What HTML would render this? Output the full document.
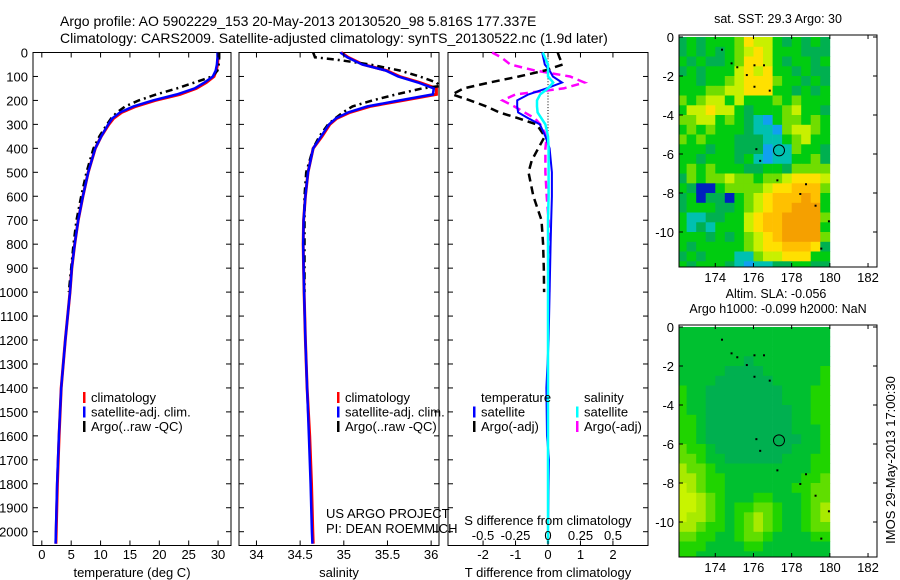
<!DOCTYPE html>
<html><head><meta charset="utf-8"><style>
html,body{margin:0;padding:0;background:#fff;}
svg{display:block;font-family:"Liberation Sans",sans-serif;}
text{fill:#000;}
</style></head><body>
<svg id="fig" width="900" height="580" viewBox="0 0 900 580">
<g id="root"></g>
</svg>
<script>
// ---------- DATA ----------
const climDepths=[0,20,50,75,100,125,150,175,200,225,250,275,300,350,400,500,600,700,800,900,1000,1200,1400,1600,1800,2000,2050];
const tempClim=[30.0,30.0,29.9,29.7,29.3,28.0,26.3,23.5,19.3,16.0,13.6,12.2,11.4,10.1,9.1,7.9,7.0,6.2,5.6,5.1,4.8,4.0,3.3,2.95,2.65,2.45,2.4];
const tempSat=[29.9,29.9,29.8,29.6,29.1,27.7,26.0,23.0,18.9,15.6,13.3,12.0,11.3,10.1,9.1,7.9,7.0,6.2,5.6,5.1,4.8,4.0,3.3,2.9,2.6,2.4,2.35];
const argoDepths=[0,20,50,75,100,125,150,175,200,225,250,275,300,350,400,500,600,700,800,900,1000];
const tempArgo=[30.2,30.2,30.1,29.9,29.0,26.0,23.0,19.5,16.5,14.2,12.8,11.8,11.1,9.8,8.8,7.6,6.7,5.9,5.4,5.0,4.6];
const salClim=[34.97,35.05,35.22,35.49,35.64,35.87,36.06,36.06,35.68,35.30,35.07,34.92,34.84,34.75,34.65,34.59,34.56,34.54,34.535,34.54,34.545,34.56,34.58,34.61,34.63,34.645,34.65];
const salSat=[34.96,35.04,35.21,35.48,35.62,35.85,36.03,36.02,35.64,35.27,35.05,34.91,34.83,34.74,34.65,34.59,34.56,34.54,34.535,34.54,34.545,34.56,34.58,34.60,34.62,34.635,34.64];
const salArgoDepths=[0,20,30,50,75,100,125,140,150,175,200,225,250,275,300,350,400,500,600,700,800,900,1000];
const salArgo=[34.65,34.67,34.92,35.30,35.64,35.87,36.06,36.10,35.90,35.60,35.33,35.10,34.99,34.90,34.82,34.72,34.65,34.57,34.55,34.55,34.55,34.55,34.55];
const diffDepths=[0,20,50,75,100,125,150,175,200,225,250,275,300,350,400,450,500,600,700,800,900,1000];
const tDiffArgo=[0.3,0.35,0.45,-0.1,-0.9,-1.8,-2.6,-2.95,-2.4,-1.9,-1.5,-0.9,-0.35,-0.1,-0.3,-0.5,-0.6,-0.45,-0.2,-0.15,-0.13,-0.12];
const sDiffArgo=[-0.43,-0.36,-0.29,-0.1,0.17,0.28,0.12,-0.25,-0.35,-0.26,-0.18,-0.1,-0.06,-0.01,-0.02,-0.02,-0.02,-0.01,0.005,0.01,0.01,0.01];
const satDiffDepths=[0,50,75,100,125,150,175,200,225,250,275,300,350,400,500,600,700,800,1000,1200,1400,1600,1700,1800,2000,2050];
const tDiffSat=[-0.18,-0.1,0.05,0.15,0.43,-0.05,-0.6,-0.95,-0.95,-0.92,-0.6,-0.25,-0.08,0.05,0.12,0.12,0.1,0.08,0.05,0.02,-0.05,-0.03,0.03,0.02,0.0,0.0];
const sDiffSat=[-0.04,0.0,0.0,0.0,0.04,0.0,-0.06,-0.085,-0.085,-0.08,-0.05,-0.02,0.0,0.005,0.005,0.005,0.0,0.0,0.0,0.0,0.0,0.0,0.0,0.0,0.0,0.0];
const depthTicks=[0,100,200,300,400,500,600,700,800,900,1000,1100,1200,1300,1400,1500,1600,1700,1800,1900,2000];
const tempTicks=[0,5,10,15,20,25,30];
const salTicks=[34,34.5,35,35.5,36];
const salTickLabels=["34","34.5","35","35.5","36"];
const tDiffTicks=[-2,-1,0,1,2];
const sDiffTicks=[-0.5,-0.25,0,0.25,0.5];
const sDiffTickLabels=["-0.5","-0.25","0","0.25","0.5"];
const lonTicks=[174,176,178,180,182];
const latTicks=[0,-2,-4,-6,-8,-10];
const sstRows=[
"3434445766434343","3434345676444333","4343345776434434","3434446767443433",
"4434456777544343","4445566777443434","5456646444545444","4667664344456443",
"5566454321455454","4545444322156654","5454443332245644","4443443331225443",
"4434443421224453","4545444334435555","3545565545567776","4300455556778885",
"3403304567888984","3444334567889994","4223344678899995","4232444678899994",
"4443434567899995","4344444567788873","3434442256677744","4344432122334433"];
const slaRows=[
"1111111111111111","1111111111111111","1111111111111111","1111111011111111",
"1111100001111112","1111000000111112","2110000000011122","2110000000011122",
"2110000000001122","2210000000001122","2210000000001112","2210000000000112",
"3221000000001112","3321100000011122","4332111111111122","4432211111111223",
"5432211111112233","5543211122111233","5543212233211234","5443212343211234",
"4432212343211233","3322112332111122","2221111221111111","2211111111111111"];
const sstColors=["#0020c0","#10a0f0","#00c0b0","#00b050","#00cc10","#70dd00","#c8f000","#ffe000","#ffc000","#f5a000"];
const slaColors=["#00b050","#00c030","#20d400","#60de00","#a8ea00","#c8f400"];
const argoLon=177.337, argoLat=-5.816;
const islands=[[174.3,-0.6],[174.8,-1.3],[175.1,-1.5],[175.6,-1.9],[176.0,-1.4],[176.5,-1.4],[176.0,-2.5],[176.8,-2.7],[176.1,-5.7],[176.3,-6.3],[177.2,-7.3],[178.7,-7.5],[178.4,-8.0],[179.2,-8.6],[179.9,-9.4],[179.5,-10.8]];

// ---------- HELPERS ----------
const NS="http://www.w3.org/2000/svg";
const root=document.getElementById('root');
function mk(tag,attrs,parent){const e=document.createElementNS(NS,tag);for(const k in attrs)e.setAttribute(k,attrs[k]);(parent||root).appendChild(e);return e;}
function txt(x,y,s,size,anchor,parent){const t=mk('text',{x:x,y:y,'font-size':size,'text-anchor':anchor||'start'},parent);t.textContent=s;return t;}

const TOP=52.5,BOT=545.5;
const yD=d=>TOP+d*0.2396;
const panels={
 temp:{x0:33,x1:231,min:-1.5,max:32.2},
 sal:{x0:239,x1:439,min:33.8,max:36.09},
 diff:{x0:448,x1:648,min:-3.08,max:3.08}
};
function sx(p,v){return p.x0+(v-p.min)/(p.max-p.min)*(p.x1-p.x0);}
const sS=v=>548+v*130;

function panelFrame(p,name,yLabels){
  const g=mk('g',{});
  
  
  mk('rect',{x:p.x0,y:TOP,width:p.x1-p.x0,height:BOT-TOP,fill:'none',stroke:'#000','stroke-width':1},g);
  depthTicks.forEach(d=>{const y=yD(d);
    mk('line',{x1:p.x0,x2:p.x0+5,y1:y,y2:y,stroke:'#000'},g);
    mk('line',{x1:p.x1-5,x2:p.x1,y1:y,y2:y,stroke:'#000'},g);
    if(yLabels){const t=txt(28,y+5,String(d),13,'end',g);}
  });
  return g;
}
function line(g,p,vals,depths,color,w,dash,name,scale){
  const pts=vals.map((v,i)=>(scale?scale(v):sx(p,v)).toFixed(1)+','+yD(depths[i]).toFixed(1)).join(' ');
  const l=mk('polyline',{points:pts,fill:'none',stroke:color,'stroke-width':w},g);
  if(dash)l.setAttribute('stroke-dasharray',dash);
  
  
}
function xTicks(g,p,ticks,labels,scale,ylab){
  ticks.forEach((t,i)=>{const x=scale?scale(t):sx(p,t);
    mk('line',{x1:x,x2:x,y1:BOT,y2:BOT-5,stroke:'#000'},g);
    mk('line',{x1:x,x2:x,y1:TOP,y2:TOP+5,stroke:'#000'},g);
    const tl=txt(x,ylab,labels?labels[i]:String(t),13,'middle',g);
    
    
  });
}
function legend(g,x,y,items){
  items.forEach((it,i)=>{
    const r=mk('rect',{x:x,y:y+i*14.5-10,width:2.5,height:11,fill:it[1]},g);
    
    
    const t=txt(x+8,y+i*14.5,it[0],13,'start',g);
    
    
  });
}

// ---------- TITLE ----------
let t=txt(60,26,"Argo profile: AO 5902229_153 20-May-2013 20130520_98 5.816S 177.337E",14);


t=txt(60,43,"Climatology: CARS2009. Satellite-adjusted climatology: synTS_20130522.nc (1.9d later)",14);



// ---------- TEMPERATURE PANEL ----------
let g=panelFrame(panels.temp,'temperature-panel',true);
line(g,panels.temp,tempClim,climDepths,'#ff0000',3,null,'temp-climatology-line');
line(g,panels.temp,tempArgo,argoDepths,'#000',2.5,'7,4,2,4','temp-argo-line');
line(g,panels.temp,tempSat,climDepths,'#0000ff',2.5,null,'temp-satellite-line');
xTicks(g,panels.temp,tempTicks,null,null,559);
t=txt(132,577,"temperature (deg C)",13,'middle',g);


legend(g,83,402,[["climatology","#ff0000"],["satellite-adj. clim.","#0000ff"],["Argo(..raw -QC)","#000"]]);

// ---------- SALINITY PANEL ----------
g=panelFrame(panels.sal,'salinity-panel',false);
line(g,panels.sal,salClim,climDepths,'#ff0000',3,null,'sal-climatology-line');
line(g,panels.sal,salArgo,salArgoDepths,'#000',2.5,'7,4,2,4','sal-argo-line');
line(g,panels.sal,salSat,climDepths,'#0000ff',2.5,null,'sal-satellite-line');
xTicks(g,panels.sal,salTicks,salTickLabels,null,559);
t=txt(339,577,"salinity",13,'middle',g);


legend(g,337,402,[["climatology","#ff0000"],["satellite-adj. clim.","#0000ff"],["Argo(..raw -QC)","#000"]]);
t=txt(326,518,"US ARGO PROJECT",13,'start',g);


t=txt(326,533,"PI: DEAN ROEMMICH",13,'start',g);



// ---------- DIFFERENCE PANEL ----------
g=panelFrame(panels.diff,'difference-panel',false);
for(let d=0;d<=2050;d+=12){mk('rect',{x:547.5,y:yD(d),width:1,height:1,fill:'#000'},g);}
line(g,panels.diff,sDiffArgo,diffDepths,'#ff00ff',2.5,'8,5','sdiff-argo-line',sS);
line(g,panels.diff,tDiffArgo,diffDepths,'#000',2.5,'8,5','tdiff-argo-line');
line(g,panels.diff,tDiffSat,satDiffDepths,'#0000ff',2,null,'tdiff-satellite-line');
line(g,panels.diff,sDiffSat,satDiffDepths,'#00ffff',2.5,null,'sdiff-satellite-line',sS);
xTicks(g,panels.diff,tDiffTicks,null,null,559);
sDiffTicks.forEach((v,i)=>{const tl=txt(sS(v),540,sDiffTickLabels[i],13,'middle',g);});
t=txt(548,525,"S difference from climatology",13,'middle',g);


t=txt(548,577,"T difference from climatology",13,'middle',g);


t=txt(481,402,"temperature",13,'start',g);


t=txt(584,402,"salinity",13,'start',g);


legend(g,473,416.5,[["satellite","#0000ff"],["Argo(-adj)","#000"]]);
legend(g,576,416.5,[["satellite","#00ffff"],["Argo(-adj)","#ff00ff"]]);

// ---------- MAPS ----------
function drawMap(name,top,rows,colors,title1,title2){
  const L=679,R=877,H=232,lonMin=172.1,lonMax=182.47;
  const lx=v=>L+(v-lonMin)/(lonMax-lonMin)*(R-L);
  const ly=v=>top+2+(-v)*19.5;
  const g=mk('g',{});
  
  
  rows.forEach((row,ri)=>{for(let ci=0;ci<row.length;ci++){
    const lon=172+ci*0.5, lat=-ri*0.5;
    const x0=Math.max(L,lx(lon)), x1=lx(lon+0.5);
    const y0=Math.max(top,ly(lat)), y1=Math.min(top+H,ly(lat-0.5));
    const c=mk('rect',{x:x0.toFixed(1),y:y0.toFixed(1),width:(x1-x0+0.4).toFixed(1),height:(y1-y0+0.4).toFixed(1),fill:colors[+row[ci]]},g);
    
    
  }});
  mk('rect',{x:lx(180.1),y:top,width:R-lx(180.1),height:H,fill:'#fff'},g);
  islands.forEach(p=>{const d=mk('rect',{x:lx(p[0]),y:ly(p[1]),width:2,height:2,fill:'#000'},g);});
  const c=mk('circle',{cx:lx(argoLon),cy:ly(argoLat),r:5.5,fill:'none',stroke:'#000','stroke-width':1},g);
  
  
  mk('rect',{x:L,y:top,width:R-L,height:H,fill:'none',stroke:'#000'},g);
  lonTicks.forEach(v=>{const x=lx(v);mk('line',{x1:x,x2:x,y1:top,y2:top+4,stroke:'#000'},g);mk('line',{x1:x,x2:x,y1:top+H,y2:top+H-4,stroke:'#000'},g);
    const tl=txt(x,top+H+15,String(v),13,'middle',g);});
  latTicks.forEach(v=>{const y=ly(v);mk('line',{x1:L,x2:L+4,y1:y,y2:y,stroke:'#000'},g);mk('line',{x1:R,x2:R-4,y1:y,y2:y,stroke:'#000'},g);
    const tl=txt(L-5,y+5,String(v),13,'end',g);});
  let t1=txt(778,top-12,title1,12.5,'middle',g);
  
  
  if(title2){let t2=txt(776,top-27,title2,12.5,'middle',g);}
}
drawMap('sst-map',35,sstRows,sstColors,"sat. SST: 29.3 Argo: 30");
drawMap('sla-map',325,slaRows,slaColors,"Argo h1000: -0.099 h2000: NaN","Altim. SLA: -0.056");
t=txt(0,0,"IMOS 29-May-2013 17:00:30",13,'middle');
t.setAttribute('transform','translate(895,460) rotate(-90)');


</script>
</body></html>
